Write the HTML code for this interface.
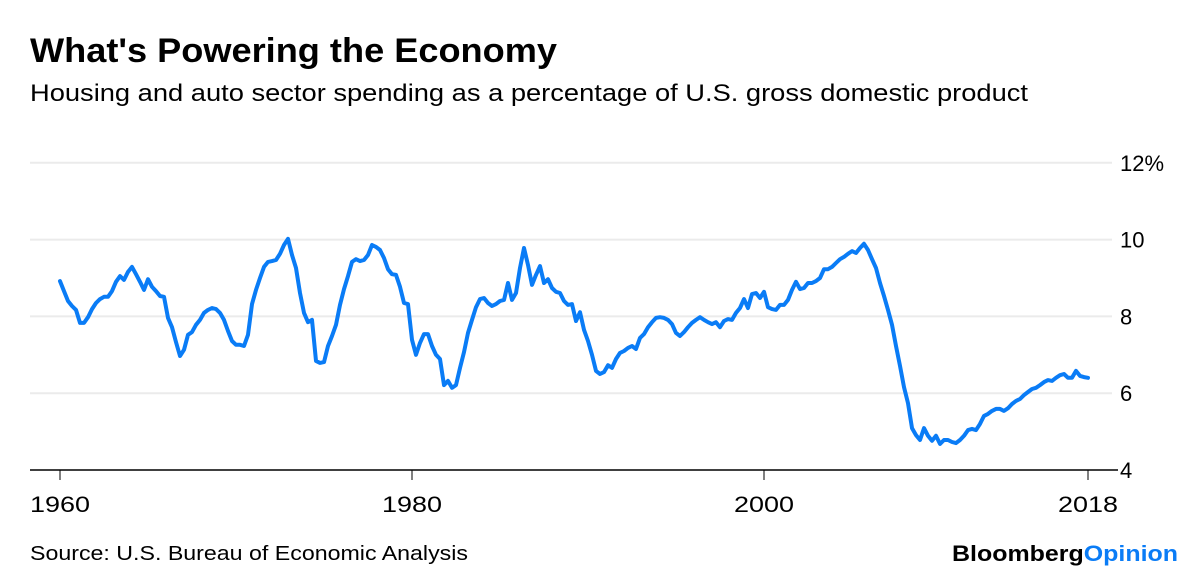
<!DOCTYPE html>
<html><head><meta charset="utf-8">
<style>
body{margin:0;background:#fff;width:1200px;height:582px;overflow:hidden;font-family:"Liberation Sans",sans-serif;}
</style></head>
<body>
<svg width="1200" height="582" xmlns="http://www.w3.org/2000/svg">
<text x="30" y="62" font-size="34" font-weight="bold" fill="#000" textLength="527" lengthAdjust="spacingAndGlyphs">What's Powering the Economy</text>
<text x="30" y="101" font-size="24" fill="#000" textLength="998" lengthAdjust="spacingAndGlyphs">Housing and auto sector spending as a percentage of U.S. gross domestic product</text>
<g id="grid"></g>
<g id="yticks"></g>
<g id="xaxis"></g>
<path id="line" fill="none" stroke="#0a7cf6" stroke-width="4" stroke-linejoin="round" stroke-linecap="round"/>
<text x="30" y="560" font-size="20" fill="#000" textLength="438" lengthAdjust="spacingAndGlyphs">Source: U.S. Bureau of Economic Analysis</text>
<text x="952" y="561" font-size="22" font-weight="bold" textLength="226" lengthAdjust="spacingAndGlyphs"><tspan fill="#000">Bloomberg</tspan><tspan fill="#0a7cf6">Opinion</tspan></text>
</svg>
<script>
const startYear = 1960;
const stepYears = 0.22727;
const values = [8.92,8.66,8.40,8.27,8.17,7.83,7.83,7.98,8.19,8.35,8.45,8.51,8.51,8.66,8.90,9.05,8.95,9.16,9.29,9.10,8.90,8.69,8.97,8.77,8.66,8.53,8.51,7.96,7.72,7.33,6.97,7.13,7.52,7.59,7.78,7.91,8.09,8.17,8.22,8.19,8.09,7.91,7.62,7.36,7.26,7.26,7.23,7.52,8.32,8.69,9.00,9.29,9.42,9.44,9.47,9.63,9.86,10.02,9.60,9.26,8.61,8.09,7.85,7.91,6.84,6.79,6.81,7.23,7.49,7.78,8.30,8.71,9.05,9.42,9.49,9.44,9.47,9.60,9.86,9.81,9.73,9.52,9.23,9.10,9.08,8.77,8.35,8.32,7.39,7.00,7.31,7.54,7.54,7.23,7.00,6.89,6.21,6.32,6.14,6.21,6.66,7.07,7.57,7.91,8.24,8.45,8.48,8.35,8.27,8.32,8.40,8.43,8.87,8.43,8.61,9.26,9.78,9.34,8.82,9.08,9.31,8.87,8.97,8.74,8.64,8.61,8.40,8.30,8.32,7.88,8.11,7.65,7.36,7.00,6.58,6.50,6.55,6.73,6.66,6.89,7.05,7.10,7.18,7.23,7.15,7.44,7.54,7.72,7.85,7.96,7.98,7.96,7.91,7.80,7.57,7.49,7.59,7.72,7.83,7.91,7.98,7.91,7.85,7.80,7.85,7.72,7.88,7.93,7.91,8.09,8.22,8.45,8.22,8.58,8.61,8.48,8.64,8.24,8.19,8.17,8.30,8.30,8.43,8.69,8.90,8.71,8.74,8.87,8.87,8.92,9.00,9.23,9.23,9.29,9.39,9.49,9.55,9.63,9.70,9.65,9.78,9.89,9.73,9.49,9.26,8.87,8.53,8.17,7.78,7.23,6.71,6.16,5.74,5.09,4.91,4.78,5.09,4.89,4.76,4.89,4.68,4.78,4.78,4.73,4.70,4.78,4.89,5.04,5.07,5.04,5.20,5.41,5.46,5.54,5.59,5.59,5.54,5.61,5.72,5.80,5.85,5.95,6.03,6.11,6.14,6.21,6.29,6.34,6.32,6.40,6.47,6.50,6.40,6.40,6.58,6.45,6.42,6.40];
const yTicks = [4,6,8,10,12];
const yTickLabels = ["4","6","8","10","12%"];
const xTicks = [1960,1980,2000,2018];
const xTickLabels = ["1960","1980","2000","2018"];

const NS = "http://www.w3.org/2000/svg";
const x = yr => 60 + (yr - 1960) * 17.6;
const y = v => 470 - (v - 4) * 38.4;
const xTickPos = t => t === 2018 ? 60 + (values.length - 1) * 4 : x(t);

const grid = document.getElementById('grid');
const yt = document.getElementById('yticks');
yTicks.forEach((t, i) => {
  if (t !== 4) {
    const l = document.createElementNS(NS, 'line');
    l.setAttribute('x1', 30); l.setAttribute('x2', 1112);
    l.setAttribute('y1', y(t)); l.setAttribute('y2', y(t));
    l.setAttribute('stroke', '#ebebeb'); l.setAttribute('stroke-width', 2);
    
    
    grid.appendChild(l);
  }
  const tx = document.createElementNS(NS, 'text');
  tx.setAttribute('x', 1120); tx.setAttribute('y', y(t) + 8);
  tx.setAttribute('font-size', '22');
  tx.textContent = yTickLabels[i];
  
  
  yt.appendChild(tx);
});

const xa = document.getElementById('xaxis');
const axl = document.createElementNS(NS, 'line');
axl.setAttribute('x1', 30); axl.setAttribute('x2', 1118);
axl.setAttribute('y1', 470); axl.setAttribute('y2', 470);
axl.setAttribute('stroke', '#000'); axl.setAttribute('stroke-width', 1.5);


xa.appendChild(axl);
xTicks.forEach((t, i) => {
  const px = xTickPos(t);
  const tk = document.createElementNS(NS, 'line');
  tk.setAttribute('x1', px); tk.setAttribute('x2', px);
  tk.setAttribute('y1', 470); tk.setAttribute('y2', 480);
  tk.setAttribute('stroke', '#000'); tk.setAttribute('stroke-width', 1);
  
  
  xa.appendChild(tk);
  const tx = document.createElementNS(NS, 'text');
  tx.setAttribute('x', px); tx.setAttribute('y', 512);
  tx.setAttribute('font-size', '22'); tx.setAttribute('text-anchor', 'middle');
  tx.setAttribute('textLength', '60'); tx.setAttribute('lengthAdjust', 'spacingAndGlyphs');
  tx.textContent = xTickLabels[i];
  
  
  xa.appendChild(tx);
});

let d = '';
values.forEach((v, i) => {
  d += (i ? 'L' : 'M') + x(startYear + i * stepYears).toFixed(1) + ',' + y(v).toFixed(1);
});
document.getElementById('line').setAttribute('d', d);
</script>
</body></html>
